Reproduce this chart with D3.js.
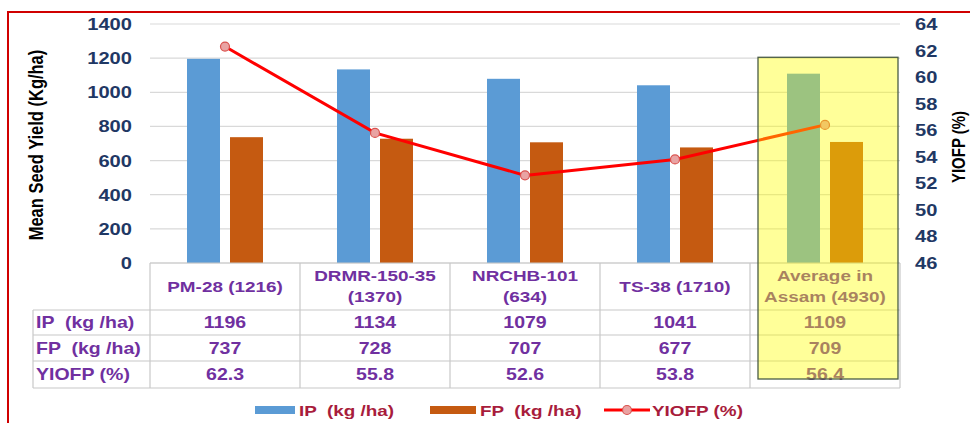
<!DOCTYPE html>
<html>
<head>
<meta charset="utf-8">
<script src="https://cdn.jsdelivr.net/npm/d3@7"></script>
<style>
  body { margin: 0; background: #fff; }
  text { font-family: "Liberation Sans", Arial, sans-serif; font-weight: bold; white-space: pre; }
</style>
</head>
<body>
<div id="chart"></div>
<script>
// data
const categories = [["PM-28 (1216)"], ["DRMR-150-35", "(1370)"], ["NRCHB-101", "(634)"], ["TS-38 (1710)"], ["Average in", "Assam (4930)"]];
const ipValues = [1196, 1134, 1079, 1041, 1109];
const fpValues = [737, 728, 707, 677, 709];
const yiofpValues = [62.3, 55.8, 52.6, 53.8, 56.4];
const leftTicks = [0, 200, 400, 600, 800, 1000, 1200, 1400];
const rightTicks = [46, 48, 50, 52, 54, 56, 58, 60, 62, 64];
const rowLabels = ["IP  (kg /ha)", "FP  (kg /ha)", "YIOFP (%)"];
const seriesNames = ["IP  (kg /ha)", "FP  (kg /ha)", "YIOFP (%)"];

const W = 970, H = 423;
const SX = 1.22; // the picture is stretched sideways
const purple = "#7030a0", navy = "#1f3864";

const svg = d3.select("#chart").append("svg")
    .attr("width", W).attr("height", H);

// red frame
svg.append("rect")
    .attr("x", 8).attr("y", 12).attr("width", 1000).attr("height", 500)
    .attr("fill", "none").attr("stroke", "#d00000").attr("stroke-width", 2);

// scales
const x = d3.scaleBand().domain(d3.range(categories.length)).range([150, 900]);
const xSub = d3.scaleBand().domain(["IP", "FP"]).range([37, 113]).paddingInner(10 / 43);
const yL = d3.scaleLinear().domain([0, 1400]).range([263, 24]);
const yR = d3.scaleLinear().domain([46, 64]).range([263, 24]);

// stretched text helper
function stext(g, tx, ty, str, size, anchor, color) {
    return g.append("text")
        .attr("transform", "translate(" + tx + "," + ty + ") scale(" + SX + ",1)")
        .attr("text-anchor", anchor)
        .attr("font-size", size)
        .attr("fill", color)
        .text(str);
}

// gridlines
svg.append("g").selectAll("line")
    .data(leftTicks)
    .join("line")
    .attr("x1", 150).attr("x2", 900)
    .attr("y1", d => yL(d)).attr("y2", d => yL(d))
    .attr("stroke", "#d9d9d9").attr("stroke-width", 1.2);

// axis labels
const axL = svg.append("g");
leftTicks.forEach(t => stext(axL, 132, yL(t) + 6, String(t), 16.5, "end", navy));
const axR = svg.append("g");
rightTicks.forEach(t => stext(axR, 915, yR(t) + 6, String(t), 16.5, "start", navy));

// axis titles
svg.append("text")
    .attr("transform", "translate(43,145) scale(" + SX + ",1) rotate(-90)")
    .attr("text-anchor", "middle").attr("font-size", 16.5).attr("fill", "#000")
    .text("Mean Seed Yield (Kg/ha)");
svg.append("text")
    .attr("transform", "translate(965,147) scale(" + SX + ",1) rotate(-90)")
    .attr("text-anchor", "middle").attr("font-size", 15).attr("fill", "#000")
    .text("YIOFP (%)");

// bars
const groups = svg.append("g").selectAll("g")
    .data(categories.map((c, i) => i))
    .join("g")
    .attr("transform", i => "translate(" + x(i) + ",0)");
groups.append("rect")
    .attr("x", xSub("IP")).attr("width", xSub.bandwidth())
    .attr("y", i => yL(ipValues[i])).attr("height", i => yL(0) - yL(ipValues[i]))
    .attr("fill", "#5b9bd5");
groups.append("rect")
    .attr("x", xSub("FP")).attr("width", xSub.bandwidth())
    .attr("y", i => yL(fpValues[i])).attr("height", i => yL(0) - yL(fpValues[i]))
    .attr("fill", "#c55a11");

// YIOFP line
const cx = i => x(i) + x.bandwidth() / 2;
svg.append("path")
    .datum(yiofpValues)
    .attr("d", d3.line().x((d, i) => cx(i)).y(d => yR(d)))
    .attr("fill", "none").attr("stroke", "#ff0000").attr("stroke-width", 3);
svg.append("g").selectAll("circle")
    .data(yiofpValues)
    .join("circle")
    .attr("cx", (d, i) => cx(i)).attr("cy", d => yR(d)).attr("r", 4.5)
    .attr("fill", "#e9a3a3").attr("stroke", "#d9534f").attr("stroke-width", 1.2);

// data table
const tableLines = "#c8c8c8";
const rowEdges = [263, 310, 335, 361, 388];
const tbl = svg.append("g");
// horizontal lines
rowEdges.forEach((yy, r) => {
    tbl.append("line")
        .attr("x1", r >= 1 ? 33 : 150).attr("x2", 900)
        .attr("y1", yy).attr("y2", yy)
        .attr("stroke", tableLines).attr("stroke-width", 1.2);
});
// vertical lines
tbl.append("line").attr("x1", 33).attr("x2", 33).attr("y1", 310).attr("y2", 388)
    .attr("stroke", tableLines).attr("stroke-width", 1.2);
d3.range(categories.length + 1).forEach(i => {
    const xx = i < categories.length ? x(i) : 900;
    tbl.append("line").attr("x1", xx).attr("x2", xx).attr("y1", 263).attr("y2", 388)
        .attr("stroke", tableLines).attr("stroke-width", 1.2);
});
// header cells
categories.forEach((lines, i) => {
    if (lines.length === 1) {
        stext(tbl, cx(i), 292, lines[0], 15.5, "middle", purple);
    } else {
        stext(tbl, cx(i), 281, lines[0], 15.5, "middle", purple);
        stext(tbl, cx(i), 302, lines[1], 15.5, "middle", purple);
    }
});
// row labels and values
const rowData = [ipValues.map(String), fpValues.map(String), yiofpValues.map(v => v.toFixed(1))];
rowLabels.forEach((lab, r) => {
    const yy = (rowEdges[r + 1] + rowEdges[r + 2]) / 2 + 5.5;
    stext(tbl, 36, yy, lab, 16, "start", purple);
    rowData[r].forEach((v, i) => stext(tbl, cx(i), yy, v, 16, "middle", purple));
});

// highlight box on the average column
const hx0 = x(4) + 8, hx1 = x(4) + x.bandwidth() - 2;
svg.append("rect")
    .attr("x", hx0).attr("y", yL(1205)).attr("width", hx1 - hx0).attr("height", 379 - yL(1205))
    .attr("fill", "#ffff00").attr("fill-opacity", 0.4)
    .attr("stroke", "#4a5c46").attr("stroke-width", 1.3);

// legend
const legend = svg.append("g");
const legendColor = "#a81c3c";
legend.append("rect").attr("x", 255).attr("y", 406).attr("width", 40).attr("height", 8).attr("fill", "#5b9bd5");
stext(legend, 299, 416, seriesNames[0], 15.5, "start", legendColor);
legend.append("rect").attr("x", 430).attr("y", 406).attr("width", 46).attr("height", 8).attr("fill", "#c55a11");
stext(legend, 480, 416, seriesNames[1], 15.5, "start", legendColor);
legend.append("line").attr("x1", 604).attr("x2", 650).attr("y1", 410).attr("y2", 410)
    .attr("stroke", "#ff0000").attr("stroke-width", 3);
legend.append("circle").attr("cx", 627).attr("cy", 410).attr("r", 4.5)
    .attr("fill", "#e9a3a3").attr("stroke", "#d9534f").attr("stroke-width", 1.2);
stext(legend, 652, 416, seriesNames[2], 15.5, "start", legendColor);
</script>
</body>
</html>
